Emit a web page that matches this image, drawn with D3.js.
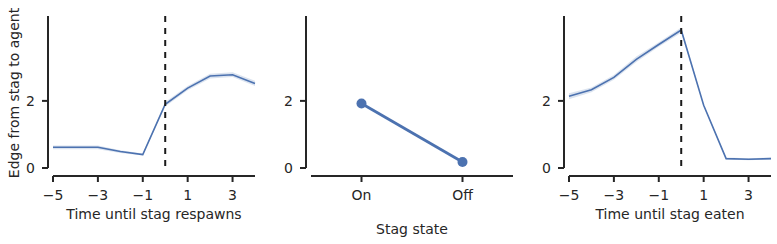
<!DOCTYPE html>
<html>
<head>
<meta charset="utf-8">
<script src="https://cdn.jsdelivr.net/npm/d3@7"></script>
<style>
  body { margin: 0; background: #fff; }
  svg text { font-family: "DejaVu Sans", sans-serif; fill: #262626; }
</style>
</head>
<body>
<div id="chart"></div>
<script>
// respawn panel
const respawnT = [-5, -4, -3, -2, -1, 0, 1, 2, 3, 4]
const respawnMean = [0.62, 0.62, 0.62, 0.49, 0.40, 1.90, 2.38, 2.74, 2.78, 2.52]
const respawnLo = [0.56, 0.56, 0.56, 0.45, 0.37, 1.83, 2.32, 2.67, 2.71, 2.44]
const respawnHi = [0.67, 0.67, 0.67, 0.53, 0.43, 1.97, 2.44, 2.81, 2.85, 2.60]

// stag state panel
const stateCats = ['On', 'Off']
const stateMean = [1.92, 0.18]

// eaten panel
const eatenT = [-5, -4, -3, -2, -1, 0, 1, 2, 3, 4]
const eatenMean = [2.14, 2.33, 2.70, 3.24, 3.68, 4.11, 1.87, 0.28, 0.26, 0.28]
const eatenLo = [2.05, 2.26, 2.63, 3.16, 3.61, 4.03, 1.84, 0.25, 0.23, 0.25]
const eatenHi = [2.23, 2.40, 2.77, 3.32, 3.75, 4.19, 1.90, 0.31, 0.29, 0.31]

const yTicks = [0, 2]
const xTicks = [-5, -3, -1, 1, 3]

const width = 777
const height = 244
const BLUE = '#4c72b0'
const INK = '#262626'
const FONT = '14px'

const svg = d3.select('#chart')
  .append('svg')
    .attr('width', width)
    .attr('height', height)

const y = d3.scaleLinear().domain([0, 4.5]).range([168, 17])

function drawAxes(g, x, left, right, ticks, fmt) {
  // y spine, offset a little to the left
  const sx = left - 5
  g.append('line')
    .attr('x1', sx).attr('x2', sx)
    .attr('y1', y.range()[1] - 1).attr('y2', y.range()[0])
    .attr('stroke', INK).attr('stroke-width', 2)
  yTicks.forEach(t => {
    g.append('line')
      .attr('x1', sx - 6).attr('x2', sx)
      .attr('y1', y(t)).attr('y2', y(t))
      .attr('stroke', INK).attr('stroke-width', 2)
    g.append('text')
      .attr('x', sx - 13).attr('y', y(t))
      .attr('dy', '0.36em')
      .attr('text-anchor', 'end')
      .style('font-size', FONT)
      .text(t)
  })
  // x spine, offset downwards
  const sy = 176
  g.append('line')
    .attr('x1', left).attr('x2', right)
    .attr('y1', sy).attr('y2', sy)
    .attr('stroke', INK).attr('stroke-width', 2)
  ticks.forEach(t => {
    g.append('line')
      .attr('x1', x(t)).attr('x2', x(t))
      .attr('y1', sy).attr('y2', sy + 6)
      .attr('stroke', INK).attr('stroke-width', 2)
    g.append('text')
      .attr('x', x(t)).attr('y', 195)
      .attr('dy', '0.36em')
      .attr('text-anchor', 'middle')
      .style('font-size', FONT)
      .text(fmt(t))
  })
}

const fmtT = t => (t < 0 ? '\u2212' + Math.abs(t) : String(t))

function timePanel(left, right, ts, mean, lo, hi, label) {
  const g = svg.append('g')
  const x = d3.scaleLinear().domain([-5, 4]).range([left, right])
  const rows = ts.map((t, i) => ({ t, m: mean[i], lo: lo[i], hi: hi[i] }))

  g.append('path')
    .datum(rows)
    .attr('d', d3.area().x(d => x(d.t)).y0(d => y(d.lo)).y1(d => y(d.hi)))
    .attr('fill', BLUE)
    .attr('fill-opacity', 0.2)

  g.append('path')
    .datum(rows)
    .attr('d', d3.line().x(d => x(d.t)).y(d => y(d.m)))
    .attr('fill', 'none')
    .attr('stroke', BLUE)
    .attr('stroke-width', 1.6)

  g.append('line')
    .attr('x1', x(0)).attr('x2', x(0))
    .attr('y1', y.range()[1] - 1).attr('y2', y.range()[0])
    .attr('stroke', '#1a1a1a')
    .attr('stroke-width', 2)
    .attr('stroke-dasharray', '6,6')

  drawAxes(g, x, left, right, xTicks, fmtT)

  g.append('text')
    .attr('x', (left + right) / 2).attr('y', 214)
    .attr('dy', '0.36em')
    .attr('text-anchor', 'middle')
    .style('font-size', FONT)
    .text(label)
}

timePanel(53, 255, respawnT, respawnMean, respawnLo, respawnHi, 'Time until stag respawns')
timePanel(569, 771, eatenT, eatenMean, eatenLo, eatenHi, 'Time until stag eaten')

// middle panel: point plot
const g2 = svg.append('g')
const left2 = 311, right2 = 513
const x2 = d3.scalePoint().domain(stateCats).range([left2, right2]).padding(0.5)
const pts = stateCats.map((c, i) => ({ c, m: stateMean[i] }))

g2.append('path')
  .datum(pts)
  .attr('d', d3.line().x(d => x2(d.c)).y(d => y(d.m)))
  .attr('fill', 'none')
  .attr('stroke', BLUE)
  .attr('stroke-width', 2.8)

g2.selectAll('circle')
  .data(pts)
  .join('circle')
    .attr('cx', d => x2(d.c))
    .attr('cy', d => y(d.m))
    .attr('r', 5)
    .attr('fill', BLUE)

drawAxes(g2, x2, left2, right2, stateCats, d => d)

g2.append('text')
  .attr('x', (left2 + right2) / 2).attr('y', 229)
  .attr('dy', '0.36em')
  .attr('text-anchor', 'middle')
  .style('font-size', FONT)
  .text('Stag state')

// shared y label
svg.append('text')
  .attr('transform', 'translate(14,93) rotate(-90)')
  .attr('dy', '0.36em')
  .attr('text-anchor', 'middle')
  .style('font-size', FONT)
  .text('Edge from stag to agent')
</script>
</body>
</html>
